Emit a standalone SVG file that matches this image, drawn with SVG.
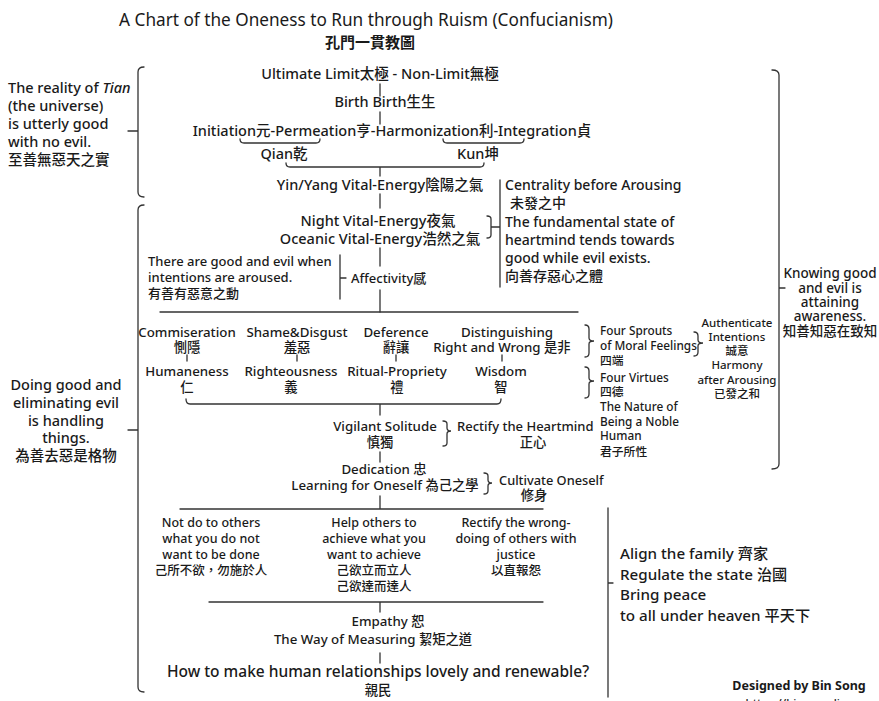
<svg xmlns="http://www.w3.org/2000/svg" width="879" height="701" viewBox="0 0 879 701">
<style>
text{font-family:'Noto Sans','Noto Sans CJK TC',sans-serif;fill:#1a1a1a;font-weight:500}
.t{font-size:17.2px;font-weight:normal}
.t2{font-size:15px;font-weight:bold}
.u{font-size:14.5px;text-anchor:middle}
.ul{font-size:14px}
.m{font-size:13.3px;text-anchor:middle}
.ml{font-size:13px}
.L{font-size:14.5px}
.Lc{font-size:14.5px;text-anchor:middle}
.k{font-size:13.5px;text-anchor:middle}
.sc{font-size:12.5px;text-anchor:middle}
.x{font-size:11.8px}
.xc{font-size:11.5px;text-anchor:middle}
.a{font-size:15.2px}
.h{font-size:15.5px;text-anchor:middle}
.ln{fill:none;stroke:#333;stroke-width:1.3;stroke-linecap:round}
</style>
<rect width="879" height="701" fill="#fff"/>

<g id="title">
<text class="t" x="366" y="26" text-anchor="middle">A Chart of the Oneness to Run through Ruism (Confucianism)</text>
<text class="t2" x="370" y="48" text-anchor="middle">孔門一貫教圖</text>
</g>

<g id="connectors">
<path class="ln" d="M144 67 Q138 67 138 72 L138 192 Q138 197 144 197 M128 131 L138 131"/>
<path class="ln" d="M144 205 Q138 205 138 210 L138 687 Q138 692 144 692 M128 430 L138 430"/>
<path class="ln" d="M772 70 Q779 70 779 75 L779 464 Q779 469 772 469 M779 288 L785 288"/>
<path class="ln" d="M608 508 L608 697 M608 583 L613 583"/>
<path class="ln" d="M380 84 L380 96 M380 112 L380 124"/>
<path class="ln" d="M240 139 Q240 143 244 143 L316 143 Q320 143 320 139"/>
<path class="ln" d="M443 139 Q443 143 447 143 L520 143 Q524 143 524 139"/>
<path class="ln" d="M286 163 Q286 167 290 167 L480 167 Q484 167 484 163 M380 167 L380 176"/>
<path class="ln" d="M380 194 L380 208"/>
<path class="ln" d="M380 248 L380 266 M380 290 L380 312"/>
<path class="ln" d="M487 216 Q491 216 491 219 L491 235 Q491 238 487 238 M491 227 L500 227 M500 180 L500 287"/>
<path class="ln" d="M340 255 L340 299 M340 278 L346 278"/>
<path class="ln" d="M160 312 L578 312"/>
<path class="ln" d="M187 355 L187 361 M297 355 L297 361 M396 355 L396 361 M502 355 L502 361"/>
<path class="ln" d="M186 399 Q186 404 190 404 L497 404 Q501 404 501 399 M380 404 L380 415"/>
<path class="ln" d="M585 325 Q589 325 589 329 L589 338 Q589 341 594 341 Q589 341 589 344 L589 353 Q589 357 585 357"/>
<path class="ln" d="M585 367 Q589 367 589 371 L589 378 Q589 381 594 381 Q589 381 589 384 L589 394 Q589 398 585 398"/>
<path class="ln" d="M694 332 Q698 332 698 336 L698 340 Q698 343 703 343 Q698 343 698 346 L698 352 Q698 356 694 356"/>
<path class="ln" d="M443 421 Q447 421 447 424 L447 428 Q447 431 451 431 Q447 431 447 434 L447 443 Q447 446 443 446"/>
<path class="ln" d="M380 452 L380 462"/>
<path class="ln" d="M484 473 Q488 473 488 476 L488 480 Q488 483 492 483 Q488 483 488 486 L488 491 Q488 494 484 494"/>
<path class="ln" d="M380 496 L380 509 M180 509 L543 509"/>
<path class="ln" d="M209 602 L543 602 M380 602 L380 612"/>
<path class="ln" d="M380 653 L380 663"/>
</g>

<g id="n-tian">
<text class="L" x="8" y="93">The reality of <tspan font-style="italic">Tian</tspan></text>
<text class="L" x="8" y="111">(the universe)</text>
<text class="L" x="8" y="129">is utterly good</text>
<text class="L" x="8" y="147">with no evil.</text>
<text class="L" x="8" y="165">至善無惡天之實</text>
</g>

<g id="n-doing">
<text class="Lc" x="66" y="390">Doing good and</text>
<text class="Lc" x="66" y="408">eliminating evil</text>
<text class="Lc" x="66" y="426">is handling</text>
<text class="Lc" x="66" y="443">things.</text>
<text class="Lc" x="66" y="461">為善去惡是格物</text>
</g>

<g id="n-knowing">
<text class="k" x="830" y="278">Knowing good</text>
<text class="k" x="830" y="293">and evil is</text>
<text class="k" x="830" y="307">attaining</text>
<text class="k" x="830" y="321">awareness.</text>
<text class="k" x="830" y="336">知善知惡在致知</text>
</g>

<g id="n-ultimate"><text class="u" x="380" y="79">Ultimate Limit太極 - Non-Limit無極</text></g>
<g id="n-birth"><text class="u" x="385" y="107">Birth Birth生生</text></g>
<g id="n-initiation"><text class="u" x="392" y="136">Initiation元-Permeation亨-Harmonization利-Integration貞</text></g>
<g id="n-qian"><text class="u" x="284" y="159">Qian乾</text></g>
<g id="n-kun"><text class="u" x="478" y="159">Kun坤</text></g>
<g id="n-yinyang"><text class="u" x="380" y="190">Yin/Yang Vital-Energy陰陽之氣</text></g>
<g id="n-night">
<text class="u" x="378" y="226">Night Vital-Energy夜氣</text>
<text class="u" x="380" y="244">Oceanic Vital-Energy浩然之氣</text>
</g>
<g id="n-centrality">
<text class="ul" x="505" y="190">Centrality before Arousing</text>
<text class="ul" x="510" y="208">未發之中</text>
<text class="ul" x="505" y="227">The fundamental state of</text>
<text class="ul" x="505" y="245">heartmind tends towards</text>
<text class="ul" x="505" y="263">good while evil exists.</text>
<text class="ul" x="505" y="281">向善存惡心之體</text>
</g>
<g id="n-goodevil">
<text class="ml" x="148" y="266">There are good and evil when</text>
<text class="ml" x="148" y="282">intentions are aroused.</text>
<text class="ml" x="148" y="298">有善有惡意之動</text>
</g>
<g id="n-affectivity"><text class="ml" x="351" y="283">Affectivity感</text></g>

<g id="n-commiseration"><text class="m" x="187" y="337">Commiseration</text><text class="m" x="187" y="352">惻隱</text></g>
<g id="n-shame"><text class="m" x="297" y="337">Shame&amp;Disgust</text><text class="m" x="297" y="352">羞惡</text></g>
<g id="n-deference"><text class="m" x="396" y="337">Deference</text><text class="m" x="396" y="352">辭讓</text></g>
<g id="n-distinguishing"><text class="m" x="507" y="337">Distinguishing</text><text class="m" x="502" y="352">Right and Wrong 是非</text></g>
<g id="n-humaneness"><text class="m" x="187" y="376">Humaneness</text><text class="m" x="187" y="392">仁</text></g>
<g id="n-righteousness"><text class="m" x="291" y="376">Righteousness</text><text class="m" x="291" y="392">義</text></g>
<g id="n-ritual"><text class="m" x="397" y="376">Ritual-Propriety</text><text class="m" x="397" y="392">禮</text></g>
<g id="n-wisdom"><text class="m" x="501" y="376">Wisdom</text><text class="m" x="501" y="392">智</text></g>

<g id="n-sprouts">
<text class="x" x="600" y="335">Four Sprouts</text>
<text class="x" x="600" y="350">of Moral Feelings</text>
<text class="x" x="600" y="365">四端</text>
</g>
<g id="n-virtues">
<text class="x" x="600" y="382">Four Virtues</text>
<text class="x" x="600" y="396">四德</text>
<text class="x" x="600" y="411">The Nature of</text>
<text class="x" x="600" y="426">Being a Noble</text>
<text class="x" x="600" y="440">Human</text>
<text class="x" x="600" y="456">君子所性</text>
</g>
<g id="n-authenticate">
<text class="xc" x="737" y="327">Authenticate</text>
<text class="xc" x="737" y="341">Intentions</text>
<text class="xc" x="737" y="355">誠意</text>
<text class="xc" x="737" y="369">Harmony</text>
<text class="xc" x="737" y="384">after Arousing</text>
<text class="xc" x="737" y="398">已發之和</text>
</g>

<g id="n-vigilant"><text class="m" x="385" y="431">Vigilant Solitude</text><text class="m" x="380" y="447">慎獨</text></g>
<g id="n-rectify"><text class="ml" x="457" y="431">Rectify the Heartmind</text><text class="m" x="533" y="447">正心</text></g>
<g id="n-dedication"><text class="m" x="384" y="474">Dedication 忠</text><text class="m" x="385" y="490">Learning for Oneself 為己之學</text></g>
<g id="n-cultivate"><text class="ml" x="499" y="485" style="font-size:12.8px">Cultivate Oneself</text><text class="m" x="534" y="500">修身</text></g>

<g id="n-notdo">
<text class="sc" x="211" y="527">Not do to others</text>
<text class="sc" x="211" y="543">what you do not</text>
<text class="sc" x="211" y="559">want to be done</text>
<text class="sc" x="211" y="575">己所不欲，勿施於人</text>
</g>
<g id="n-help">
<text class="sc" x="374" y="527">Help others to</text>
<text class="sc" x="374" y="543">achieve what you</text>
<text class="sc" x="374" y="559">want to achieve</text>
<text class="sc" x="374" y="575">己欲立而立人</text>
<text class="sc" x="374" y="591">己欲達而達人</text>
</g>
<g id="n-wrong">
<text class="sc" x="516" y="527">Rectify the wrong-</text>
<text class="sc" x="516" y="543">doing of others with</text>
<text class="sc" x="516" y="559">justice</text>
<text class="sc" x="516" y="575">以直報怨</text>
</g>

<g id="n-empathy"><text class="m" x="388" y="626">Empathy 恕</text><text class="m" x="373" y="644">The Way of Measuring 絜矩之道</text></g>
<g id="n-how"><text class="h" x="378" y="677">How to make human relationships lovely and renewable?</text><text class="m" x="378" y="695">親民</text></g>

<g id="n-align">
<text class="a" x="620" y="559">Align the family 齊家</text>
<text class="a" x="620" y="580">Regulate the state 治國</text>
<text class="a" x="620" y="600">Bring peace</text>
<text class="a" x="620" y="621">to all under heaven 平天下</text>
</g>

<g id="credit">
<text x="799" y="690" text-anchor="middle" style="font-size:12.5px;font-weight:bold">Designed by Bin Song</text>
<text x="799" y="707" text-anchor="middle" style="font-size:11.5px">https://binsong.live</text>
</g>
</svg>
